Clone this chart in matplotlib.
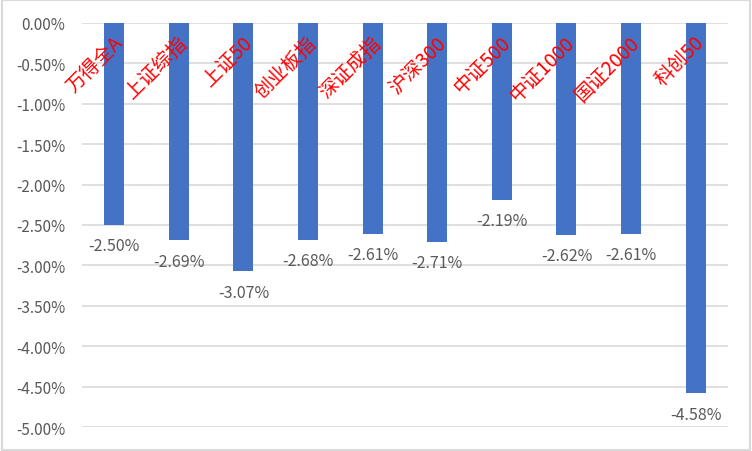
import matplotlib
matplotlib.use("Agg")
import matplotlib.pyplot as plt
from matplotlib.patches import Rectangle
from matplotlib.ticker import FuncFormatter

plt.rcParams['font.family'] = ['Noto Sans CJK SC', 'DejaVu Sans']
plt.rcParams['axes.unicode_minus'] = False

# datos
indices = ["万得全A", "上证综指", "上证50", "创业板指", "深证成指",
           "沪深300", "中证500", "中证1000", "国证2000", "科创50"]
cambios = [-2.50, -2.69, -3.07, -2.68, -2.61, -2.71, -2.19, -2.62, -2.61, -4.58]
ticks_y = [0, -0.5, -1.0, -1.5, -2.0, -2.5, -3.0, -3.5, -4.0, -4.5, -5.0]

fig = plt.figure(figsize=(7.52, 4.52), dpi=100)
ax = fig.add_axes([0.109, 0.053, 0.859, 0.894])

x = list(range(len(indices)))
ax.bar(x, cambios, width=0.31, color="#4472C4", zorder=3)

ax.set_xlim(-0.5, len(indices) - 0.5)
ax.set_ylim(-5.0, 0)
ax.set_yticks(ticks_y)
ax.yaxis.set_major_formatter(FuncFormatter(lambda v, p: "%.2f%%" % v if v != 0 else "0.00%"))
ax.tick_params(axis="y", length=0, pad=12, labelsize=11, labelcolor="#595959")
ax.set_xticks([])
ax.grid(axis="y", color="#d9d9d9", linewidth=1.2, zorder=0)
for s in ax.spines.values():
    s.set_visible(False)

# etiquetas de categorias (rojas, giradas)
for i, nombre in enumerate(indices):
    ax.text(i + 0.08, -0.2, nombre, color="red", fontsize=14, rotation=45,
            rotation_mode="anchor", ha="right", va="center", zorder=4)

# etiquetas de valores
for i, v in enumerate(cambios):
    ax.annotate("%.2f%%" % v, (i, v), xytext=(0, -9), textcoords="offset points",
                ha="center", va="top", fontsize=11.5, color="#595959")

fig.patches.append(Rectangle((0.002, 0.003), 0.996, 0.994, transform=fig.transFigure,
                             fill=False, edgecolor="#d9d9d9", linewidth=1.5))

fig.savefig("out.png", dpi=100)
